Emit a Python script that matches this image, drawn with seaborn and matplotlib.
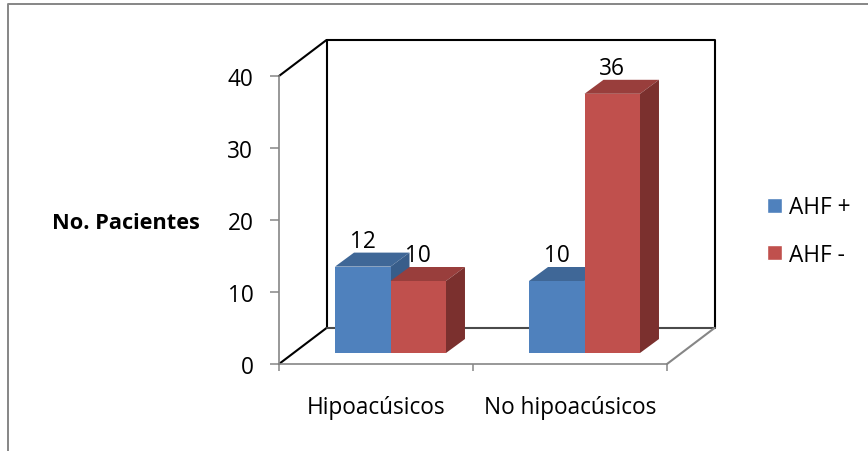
import matplotlib
matplotlib.use("Agg")
import matplotlib.pyplot as plt
from matplotlib.lines import Line2D
from matplotlib.patches import Polygon
from matplotlib.transforms import Affine2D, IdentityTransform
import pandas as pd
import seaborn as sns

categories = ["Hipoacúsicos", "No hipoacúsicos"]
ahf_pos = [12, 10]
ahf_neg = [10, 36]
series_names = ["AHF +", "AHF -"]
y_ticks = [0, 10, 20, 30, 40]

FRONT = ["#4F81BD", "#C0504D"]
TOP = ["#3F6797", "#993E3C"]
SIDE = ["#385D8A", "#7B302E"]
GRAY = "#868686"

W, H = 868, 452
sns.set_theme(style="white")
plt.rcParams["font.family"] = ["Open Sans", "DejaVu Sans"]

df = pd.DataFrame({
    "grupo": categories * 2,
    "valor": ahf_pos + ahf_neg,
    "serie": [series_names[0]] * 2 + [series_names[1]] * 2,
})

fig = plt.figure(figsize=(W / 100, H / 100), dpi=100, facecolor="white")
ax = fig.add_axes([279 / W, 1 - 365 / H, 388 / W, 288 / H])
ax.patch.set_alpha(0)

sns.barplot(data=df, x="grupo", y="valor", hue="serie", palette=FRONT,
            width=0.572, saturation=1, ax=ax, legend=True, zorder=3)
ax.set_xlim(-0.5, 1.5)
ax.set_ylim(0, 40)
ax.set_yticks(y_ticks)
ax.set_xlabel("")
ax.set_ylabel("")

# Oblique projection: bars sit slightly inside the floor, the walls at the back
BAR_SHIFT = (14.5, 11)
BAR_DEPTH = (19, 14)
WALL_DEPTH = (47.5, 36)
shifted = ax.transData + Affine2D().translate(*BAR_SHIFT)

for idx, container in enumerate(ax.containers):
    values = [ahf_pos, ahf_neg][idx]
    for j, (bar, val) in enumerate(zip(container, values)):
        z = 3 + (idx + j * 2) * 0.1
        x0, y0 = bar.get_x(), 0
        x1, y1 = x0 + bar.get_width(), val
        (px0, py0), (px1, py1) = shifted.transform([(x0, y0), (x1, y1)])
        bar.set_transform(shifted)
        bar.set_zorder(z + 0.02)
        bar.set_clip_on(False)
        bar.set_edgecolor("none")
        dx, dy = BAR_DEPTH
        ax.add_patch(Polygon([(px0, py1), (px1, py1), (px1 + dx, py1 + dy), (px0 + dx, py1 + dy)],
                             closed=True, facecolor=TOP[idx], edgecolor="none",
                             transform=IdentityTransform(), clip_on=False, zorder=z))
        ax.add_patch(Polygon([(px1, py0), (px1 + dx, py0 + dy), (px1 + dx, py1 + dy), (px1, py1)],
                             closed=True, facecolor=SIDE[idx], edgecolor="none",
                             transform=IdentityTransform(), clip_on=False, zorder=z))
        ax.annotate(str(val), xy=((px0 + px1) / 2, py1), xycoords=IdentityTransform(),
                    xytext=(0, 26 * 0.72), textcoords="offset points",
                    ha="center", va="center", fontsize=16.3, color="black", zorder=6)

# Back walls and floor
xl, xr = ax.get_xlim()
yb, yt = ax.get_ylim()
(fx0, fy0), (fx1, fy1) = ax.transData.transform([(xl, yb), (xr, yt)])
wx, wy = WALL_DEPTH
def seg(xs, ys, color, lw=1.5, z=2):
    ax.add_line(Line2D(xs, ys, color=color, lw=lw, transform=IdentityTransform(),
                       clip_on=False, zorder=z, solid_capstyle="round"))

seg([fx0, fx0 + wx], [fy1, fy1 + wy], "black")
seg([fx0 + wx, fx1 + wx, fx1 + wx], [fy1 + wy, fy1 + wy, fy0 + wy], "black")
seg([fx0 + wx, fx0 + wx], [fy1 + wy, fy0 + wy], "black")
seg([fx0, fx0 + wx], [fy0, fy0 + wy], "black")
seg([fx0 + wx, fx1 + wx], [fy0 + wy, fy0 + wy], "#4A4A4A")
seg([fx1, fx1 + wx], [fy0, fy0 + wy], GRAY)

# Axis lines and ticks
for name in ("top", "right"):
    ax.spines[name].set_visible(False)
for name in ("left", "bottom"):
    ax.spines[name].set_color(GRAY)
    ax.spines[name].set_linewidth(1.2)

ax.tick_params(axis="y", length=6.5, width=1.1, color=GRAY, pad=12,
               labelsize=16.3, labelcolor="black", left=True)
ax.set_xticks([-0.5, 0.5, 1.5], minor=True)
ax.tick_params(axis="x", which="major", length=0, pad=22, labelsize=16.3, labelcolor="black")
ax.tick_params(axis="x", which="minor", length=5, width=1.1, color=GRAY, bottom=True)

ax.set_ylabel("No. Pacientes", rotation=0, fontsize=15.7, fontweight="bold",
              color="black", ha="center", va="center")
ax.yaxis.set_label_coords((125.5 - 279) / 388, (365 - 224) / 288)

handles, names = ax.get_legend_handles_labels()
leg = ax.legend(handles, names, loc="center left", frameon=False, fontsize=16.3,
                bbox_to_anchor=(767 / W, 1 - 232 / H), bbox_transform=fig.transFigure,
                handlelength=0.66, handleheight=0.66, handletextpad=0.32,
                labelspacing=1.02, borderaxespad=0, borderpad=0)
for text in leg.get_texts():
    text.set_color("black")

# Outer chart frame, partly cropped
fig.add_artist(Line2D([7.5 / W, 7.5 / W, 1], [0, 1 - 4.5 / H, 1 - 4.5 / H],
                      color=GRAY, lw=1.4, transform=fig.transFigure))

fig.savefig("out.png", dpi=100, facecolor="white")
